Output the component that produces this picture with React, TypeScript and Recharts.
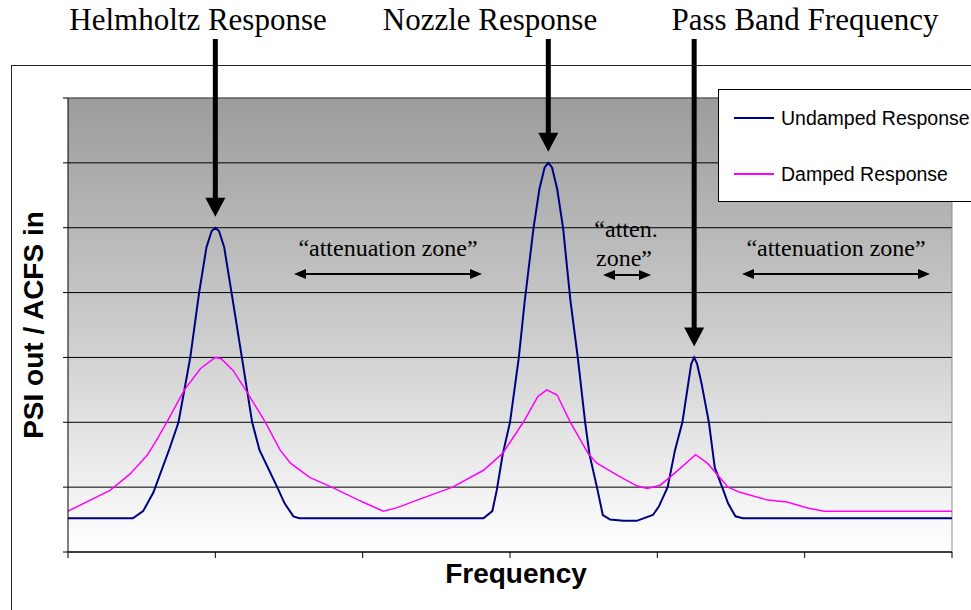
import { LineChart, Line, XAxis, YAxis, CartesianGrid, Legend, ReferenceLine, ReferenceDot } from 'recharts';

// frequency axis (arbitrary units, 0..60) and response values (0..7)
const freqTicks = [0, 10, 20, 30, 40, 50, 60];
const responseTicks = [0, 1, 2, 3, 4, 5, 6, 7];
const legendOrder = ['Undamped Response', 'Damped Response'];

const undampedFreq = [
  0, 4.4, 5.1, 5.8, 6.9, 7.5, 8.3, 8.9, 9.4, 9.75, 10, 10.25, 10.6, 11.1, 11.8, 12.5, 13.0, 14.2, 14.7, 15.3, 15.7,
  28.2, 28.8, 29.1, 29.5, 30.0, 30.6, 31.0, 31.6, 32.0, 32.35, 32.6, 32.85, 33.2, 33.6, 34.1, 34.6, 35.1, 35.4, 35.9, 36.3, 36.8, 37.7, 38.6, 39.7,
  40.1, 40.7, 41.2, 41.7, 42.1, 42.3, 42.5, 42.7, 43.0, 43.5, 43.9, 44.4, 44.8, 45.3, 45.8, 60,
];
const undampedValue = [
  0.52, 0.52, 0.63, 0.92, 1.6, 2.0, 3.0, 4.0, 4.7, 4.95, 5.0, 4.95, 4.7, 4.0, 3.0, 2.0, 1.57, 1.0, 0.75, 0.55, 0.52,
  0.52, 0.63, 0.95, 1.5, 2.0, 3.0, 3.87, 5.0, 5.6, 5.93, 6.0, 5.93, 5.6, 5.0, 3.88, 3.0, 2.0, 1.5, 1.0, 0.57, 0.5, 0.48, 0.48, 0.57,
  0.7, 1.0, 1.57, 2.0, 2.6, 2.9, 3.0, 2.9, 2.6, 2.0, 1.3, 1.0, 0.75, 0.55, 0.52, 0.52,
];

const dampedFreq = [
  0, 2.85, 4.2, 5.4, 6.0, 6.7, 7.9, 9.0, 10.0, 10.4, 11.2, 12.0, 13.4, 14.4, 15.1, 16.4, 17.9,
  20.0, 21.4, 22.3, 23.7, 26.1, 28.2, 29.5, 30.9, 31.9, 32.5, 33.2, 34.1, 35.3, 35.9, 37.3, 38.6, 39.3,
  40.2, 41.1, 42.6, 43.4, 44.8, 45.6, 47.5, 48.8, 50.2, 51.3, 60,
];
const dampedValue = [
  0.63, 0.95, 1.2, 1.5, 1.72, 2.0, 2.5, 2.83, 3.0, 2.98, 2.8, 2.52, 2.0, 1.57, 1.37, 1.15, 1.0,
  0.77, 0.63, 0.68, 0.8, 1.0, 1.26, 1.52, 2.0, 2.4, 2.5, 2.42, 2.0, 1.52, 1.37, 1.18, 1.02, 0.98,
  1.03, 1.2, 1.5, 1.37, 1.0, 0.92, 0.8, 0.77, 0.68, 0.63, 0.63,
];

// the three undamped peaks that get an arrow
const peakFreq = [10, 32.6, 42.5];
const peakValue = [5, 6, 3];

const undamped = undampedFreq.map((freq, i) => ({ freq, value: undampedValue[i] }));
const damped = dampedFreq.map((freq, i) => ({ freq, value: dampedValue[i] }));

const SERIF = '"Liberation Serif", "Times New Roman", serif';
const SANS = '"Liberation Sans", Arial, sans-serif';

function PeakArrow(props: any) {
  const { cx, cy } = props;
  const tip = cy - 11;
  return (
    <g>
      <line x1={cx} y1={39} x2={cx} y2={tip - 17} stroke="#000" strokeWidth={5} />
      <polygon points={`${cx - 10},${tip - 19} ${cx + 10},${tip - 19} ${cx},${tip}`} fill="#000" />
    </g>
  );
}

function ZoneArrow({ x1, x2, y }: { x1: number; x2: number; y: number }) {
  return (
    <g>
      <line x1={x1 + 8} y1={y} x2={x2 - 8} y2={y} stroke="#000" strokeWidth={2} />
      <polygon points={`${x1},${y} ${x1 + 12},${y - 5} ${x1 + 12},${y + 5}`} fill="#000" />
      <polygon points={`${x2},${y} ${x2 - 12},${y - 5} ${x2 - 12},${y + 5}`} fill="#000" />
    </g>
  );
}

function LegendBox(props: any) {
  const items = [...(props.payload || [])].sort(
    (a: any, b: any) => legendOrder.indexOf(a.value) - legendOrder.indexOf(b.value)
  );
  return (
    <div
      style={{
        width: 253,
        height: 113,
        boxSizing: 'border-box',
        background: '#fff',
        border: '1px solid #000',
        borderRight: 'none',
        fontFamily: SANS,
        fontSize: 19.5,
        color: '#000',
      }}
    >
      {items.map((entry: any) => (
        <div key={entry.value} style={{ height: 56, display: 'flex', alignItems: 'center' }}>
          <div style={{ width: 40, height: 0, borderTop: `2px solid ${entry.color}`, marginLeft: 15, marginRight: 7 }} />
          <span>{entry.value}</span>
        </div>
      ))}
    </div>
  );
}

const noLabel = () => '';

export default function App() {
  return (
    <div style={{ position: 'relative', width: 971, height: 610, overflow: 'hidden', background: '#fff' }}>
      <style>{'body{margin:0;overflow:hidden}'}</style>
      {/* outer chart frame */}
      <div
        style={{
          position: 'absolute',
          left: 11,
          top: 65,
          width: 980,
          height: 560,
          borderLeft: '1px solid #222',
          borderTop: '1px solid #222',
        }}
      />
      <LineChart width={971} height={610} margin={{ top: 98, right: 19, bottom: 26, left: 8 }}>
        <defs>
          <linearGradient id="plotBg" x1="0" y1="0" x2="0" y2="1">
            <stop offset="0%" stopColor="#9c9c9c" />
            <stop offset="50%" stopColor="#cbcbcb" />
            <stop offset="100%" stopColor="#ffffff" />
          </linearGradient>
        </defs>
        <CartesianGrid vertical={false} stroke="#000" fill="url(#plotBg)" fillOpacity={1} />
        <XAxis
          dataKey="freq"
          type="number"
          domain={[0, 60]}
          ticks={freqTicks}
          tickFormatter={noLabel}
          tickSize={6}
          height={32}
          axisLine={{ stroke: '#000' }}
          tickLine={{ stroke: '#000' }}
        />
        <YAxis
          type="number"
          domain={[0, 7]}
          ticks={responseTicks}
          tickFormatter={noLabel}
          tickSize={5}
          width={60}
          axisLine={{ stroke: '#000' }}
          tickLine={{ stroke: '#000' }}
        />
        <ReferenceLine y={7} stroke="#8c8c8c" />
        <ReferenceLine x={60} stroke="#8c8c8c" />
        <Legend
          layout="vertical"
          align="center"
          verticalAlign="middle"
          wrapperStyle={{ top: 89, left: 718, width: 253 }}
          content={LegendBox}
        />
        <Line
          data={undamped}
          dataKey="value"
          name="Undamped Response"
          type="linear"
          stroke="#000080"
          strokeWidth={2}
          dot={false}
          isAnimationActive={false}
          legendType="line"
        />
        <Line
          data={damped}
          dataKey="value"
          name="Damped Response"
          type="linear"
          stroke="#ff00ff"
          strokeWidth={1.5}
          dot={false}
          isAnimationActive={false}
          legendType="line"
        />
        {peakFreq.map((f, i) => (
          <ReferenceDot key={f} x={f} y={peakValue[i]} r={0} shape={PeakArrow} />
        ))}
      </LineChart>
      {/* titles, zone notes and axis titles */}
      <svg width={971} height={610} style={{ position: 'absolute', left: 0, top: 0, pointerEvents: 'none' }}>
        <g fontFamily={SERIF} fontSize={31} fill="#000" textAnchor="middle">
          <text x={198} y={30}>Helmholtz Response</text>
          <text x={490} y={30}>Nozzle Response</text>
          <text x={805} y={30}>Pass Band Frequency</text>
        </g>
        <g fontFamily={SERIF} fontSize={24} fill="#000" textAnchor="middle">
          <text x={388} y={256}>“attenuation zone”</text>
          <text x={626} y={237}>“atten.</text>
          <text x={624} y={266}>zone”</text>
          <text x={836} y={256}>“attenuation zone”</text>
        </g>
        <ZoneArrow x1={294} x2={482} y={274} />
        <ZoneArrow x1={603} x2={651} y={275} />
        <ZoneArrow x1={742} x2={930} y={274} />
        <text x={516} y={583} fontFamily={SANS} fontWeight="bold" fontSize={28} textAnchor="middle" fill="#000">
          Frequency
        </text>
        <text
          x={43}
          y={325}
          transform="rotate(-90 43 325)"
          fontFamily={SANS}
          fontWeight="bold"
          fontSize={28}
          textAnchor="middle"
          fill="#000"
        >
          PSI out / ACFS in
        </text>
      </svg>
    </div>
  );
}
